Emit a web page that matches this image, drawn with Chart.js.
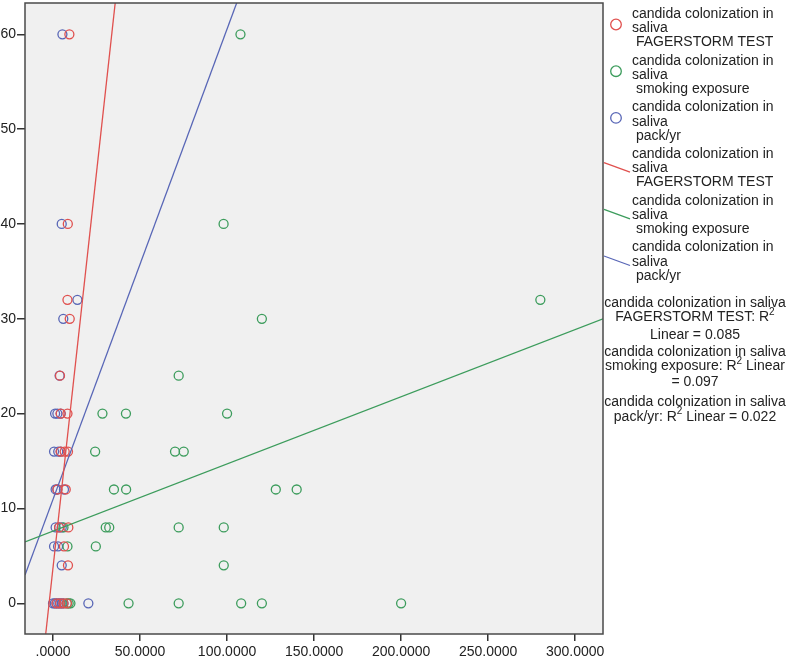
<!DOCTYPE html>
<html>
<head>
<meta charset="utf-8">
<script src="https://cdn.jsdelivr.net/npm/chart.js@4.4.1/dist/chart.umd.min.js"></script>
<style>
  html, body { margin: 0; padding: 0; background: #fff; }
  #wrap { width: 789px; height: 661px; position: relative; }
</style>
</head>
<body>
<div id="wrap"><canvas id="scatter"></canvas></div>
<script>
'use strict';

// candida colonization in saliva (y) against three predictors (x)
let fagerstromX = [9.4, 8.5, 8.3, 9.6, 4, 4.4, 8.3, 4.4, 6.7, 8.6, 2.5, 7.3, 3.5, 8.8, 6.3, 8.6, 2, 4, 6, 8];
let fagerstromY = [60, 40, 32, 30, 24, 20, 20, 16, 16, 16, 12, 12, 8, 8, 6, 4, 0, 0, 0, 0];

let smokingX = [107.7, 98, 280, 120, 72.2, 28.4, 41.9, 100, 24.2, 70.1, 75.1, 35, 42, 128, 140, 30.3, 32.3, 72.2, 98.1, 6, 8.3, 24.6, 98.1, 8, 9, 10, 43.4, 72.2, 108.1, 120, 200];
let smokingY = [60, 40, 32, 30, 24, 20, 20, 20, 16, 16, 16, 12, 12, 12, 12, 8, 8, 8, 8, 8, 6, 6, 4, 0, 0, 0, 0, 0, 0, 0, 0];

let packYrX = [5.4, 5, 14, 5.9, 3.8, 1.2, 2.5, 4.4, 0.6, 3, 4.4, 1.5, 2.5, 6.3, 1.5, 3.5, 5, 0.6, 2.9, 5, 0, 1, 2, 3, 4, 5, 6, 20.3];
let packYrY = [60, 40, 32, 30, 24, 20, 20, 20, 16, 16, 16, 12, 12, 12, 8, 8, 8, 6, 6, 4, 0, 0, 0, 0, 0, 0, 0, 0];

// fitted linear lines: [intercept, slope]
let fagerstromFit = [3.76, 1.667];
let smokingFit = [7.62, 0.0708];
let packYrFit = [10.96, 0.496];

let xTicks = [0, 50, 100, 150, 200, 250, 300];
let yTicks = [0, 10, 20, 30, 40, 50, 60];
let xRange = [-16.1, 316];
let yRange = [-3.24, 63.3];

let red = '#e0504e';
let green = '#3c9c5c';
let blue = '#5866b6';

function toPoints(xs, ys) {
    return xs.map((x, i) => ({ x: x, y: ys[i] }));
}
function fitLine(fit) {
    return xRange.map(x => ({ x: x, y: fit[0] + fit[1] * x }));
}
function pointSet(label, xs, ys, color) {
    return {
        type: 'scatter', label: label, data: toPoints(xs, ys),
        borderColor: color, backgroundColor: 'rgba(0,0,0,0)',
        pointRadius: 4.5, pointBorderWidth: 1.3, pointHoverRadius: 4.5
    };
}
function lineSet(label, fit, color) {
    return {
        type: 'line', label: label, data: fitLine(fit),
        borderColor: color, borderWidth: 1.3, pointRadius: 0, fill: false
    };
}

const FONT = '"Liberation Sans", Arial, sans-serif';
Chart.defaults.font.family = FONT;
Chart.defaults.color = '#222';

const plotFrame = {
    id: 'plotFrame',
    beforeDatasetsDraw(chart) {
        const a = chart.chartArea, c = chart.ctx;
        c.save();
        c.fillStyle = '#f0f0f0';
        c.fillRect(a.left, a.top, a.right - a.left, a.bottom - a.top);
        c.restore();
    },
    afterDraw(chart) {
        const a = chart.chartArea, c = chart.ctx;
        c.save();
        c.strokeStyle = '#4a4a4a';
        c.lineWidth = 1.5;
        c.strokeRect(a.left, a.top, a.right - a.left, a.bottom - a.top);
        c.restore();
    }
};

const sideLegend = {
    id: 'sideLegend',
    afterDraw(chart) {
        const c = chart.ctx;
        const big = '14px ' + FONT, small = '10px ' + FONT;
        c.save();
        c.font = big;
        c.fillStyle = '#222';
        c.textBaseline = 'middle';
        const items = [
            ['mark', red, 'FAGERSTORM TEST'],
            ['mark', green, 'smoking exposure'],
            ['mark', blue, 'pack/yr'],
            ['line', red, 'FAGERSTORM TEST'],
            ['line', green, 'smoking exposure'],
            ['line', blue, 'pack/yr']
        ];
        items.forEach((it, i) => {
            const y0 = 14 + i * 46.7;
            c.textAlign = 'left';
            c.fillText('candida colonization in', 632, y0);
            c.fillText('saliva', 632, y0 + 14.3);
            c.fillText(' ' + it[2], 632, y0 + 28.5);
            c.strokeStyle = it[1];
            c.lineWidth = 1.3;
            c.beginPath();
            if (it[0] === 'mark') {
                c.arc(616, y0 + 10.5, 5.3, 0, Math.PI * 2);
            } else {
                c.moveTo(604, y0 + 8.5);
                c.lineTo(630, y0 + 18);
            }
            c.stroke();
        });

        // R squared notes
        const cx = 695;
        const rows = [
            [302.7, [['candida colonization in saliva']]],
            [317, [['FAGERSTORM TEST: R'], ['2', 1]]],
            [335, [['Linear = 0.085']]],
            [351.7, [['candida colonization in saliva']]],
            [366, [['smoking exposure: R'], ['2', 1], [' Linear']]],
            [381.7, [['= 0.097']]],
            [401.7, [['candida colonization in saliva']]],
            [416.7, [['pack/yr: R'], ['2', 1], [' Linear = 0.022']]]
        ];
        rows.forEach(r => {
            let w = 0;
            r[1].forEach(p => { c.font = p[1] ? small : big; w += c.measureText(p[0]).width; });
            let x = cx - w / 2;
            c.textAlign = 'left';
            r[1].forEach(p => {
                c.font = p[1] ? small : big;
                c.fillText(p[0], x, p[1] ? r[0] - 5 : r[0]);
                x += c.measureText(p[0]).width;
            });
        });
        c.restore();
    }
};

let ctx = document.getElementById('scatter').getContext('2d');
let chart = new Chart(ctx, {
    type: 'scatter',
    data: {
        datasets: [
            lineSet('candida colonization in saliva FAGERSTORM TEST', fagerstromFit, red),
            lineSet('candida colonization in saliva smoking exposure', smokingFit, green),
            lineSet('candida colonization in saliva pack/yr', packYrFit, blue),
            pointSet('candida colonization in saliva FAGERSTORM TEST', fagerstromX, fagerstromY, red),
            pointSet('candida colonization in saliva smoking exposure', smokingX, smokingY, green),
            pointSet('candida colonization in saliva pack/yr', packYrX, packYrY, blue)
        ]
    },
    options: {
        responsive: true,
        maintainAspectRatio: false,
        animation: false,
        layout: { autoPadding: false, padding: { top: 3, right: 186, left: 0, bottom: 0 } },
        plugins: {
            legend: { display: false },
            tooltip: { enabled: false }
        },
        scales: {
            x: {
                type: 'linear',
                min: xRange[0], max: xRange[1],
                afterBuildTicks: s => { s.ticks = xTicks.map(v => ({ value: v })); },
                afterFit: s => { s.height = 27; s.paddingLeft = 0; s.paddingRight = 0; },
                border: { display: false },
                grid: { drawOnChartArea: false, drawTicks: true, tickLength: 7, color: '#333', lineWidth: 1.5 },
                ticks: {
                    padding: 3, maxRotation: 0, autoSkip: false,
                    font: { size: 14 }, color: '#222',
                    callback: v => v === 0 ? '.0000' : v.toFixed(4)
                }
            },
            y: {
                type: 'linear',
                min: yRange[0], max: yRange[1],
                afterBuildTicks: s => { s.ticks = yTicks.map(v => ({ value: v })); },
                afterFit: s => { s.width = 25; s.paddingTop = 0; s.paddingBottom = 0; },
                border: { display: false },
                grid: { drawOnChartArea: false, drawTicks: true, tickLength: 8, color: '#333', lineWidth: 1.5 },
                ticks: {
                    padding: 1, autoSkip: false,
                    font: { size: 14 }, color: '#222',
                    callback: v => String(v)
                }
            }
        }
    },
    plugins: [plotFrame, sideLegend]
});
</script>
</body>
</html>
